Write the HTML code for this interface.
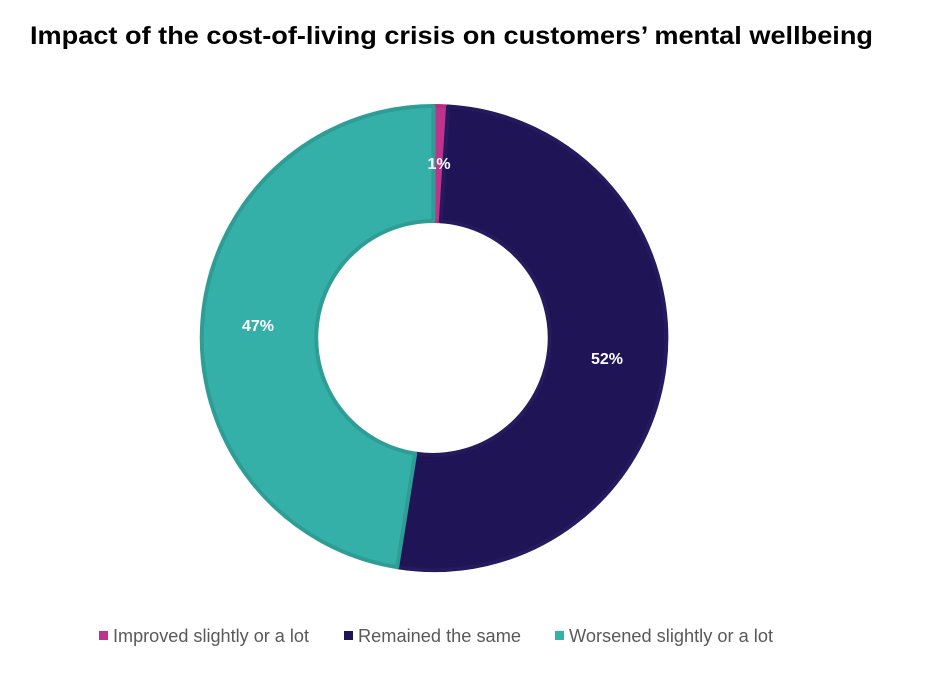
<!DOCTYPE html>
<html><head><meta charset="utf-8"><style>
body{margin:0;background:#fff;width:927px;height:673px;overflow:hidden;font-family:"Liberation Sans",Arial,sans-serif}
</style></head><body>
<svg width="927" height="673" xmlns="http://www.w3.org/2000/svg">
<text x="30" y="44" font-family="Liberation Sans, Arial, sans-serif" font-weight="bold" font-size="25" fill="#000" textLength="843" lengthAdjust="spacingAndGlyphs">Impact of the cost-of-living crisis on customers’ mental wellbeing</text>
<g stroke-width="4" stroke-linejoin="round">
<path d="M433.5,106 A232,232 0 0 1 448.1,106.5 L440.8,221.2 A117,117 0 0 0 433.5,221 Z" fill="#c0338a" stroke="#b02f80"/>
<path d="M448.1,106.5 A232,232 0 1 1 397.2,567.1 L415.2,453.6 A117,117 0 1 0 440.8,221.2 Z" fill="#1f1456" stroke="#261a5e"/>
<path d="M397.2,567.1 A232,232 0 0 1 433.5,106 L433.5,221 A117,117 0 0 0 415.2,453.6 Z" fill="#35b0a8" stroke="#2e9d95"/>
</g>
<g font-family="Liberation Sans, Arial, sans-serif" font-weight="bold" font-size="16" fill="#fff" text-anchor="middle">
<text x="439" y="169">1%</text>
<text x="607" y="364">52%</text>
<text x="258" y="331">47%</text>
</g>
<g font-family="Liberation Sans, Arial, sans-serif" font-size="18" fill="#595959">
<rect x="99" y="631" width="9" height="9" fill="#c0338a"/><text x="113" y="642" textLength="196" lengthAdjust="spacingAndGlyphs">Improved slightly or a lot</text>
<rect x="344" y="631" width="9" height="9" fill="#1f1456"/><text x="358" y="642" textLength="163" lengthAdjust="spacingAndGlyphs">Remained the same</text>
<rect x="555" y="631" width="9" height="9" fill="#35b0a8"/><text x="569" y="642" textLength="204" lengthAdjust="spacingAndGlyphs">Worsened slightly or a lot</text>
</g>
</svg>
</body></html>
